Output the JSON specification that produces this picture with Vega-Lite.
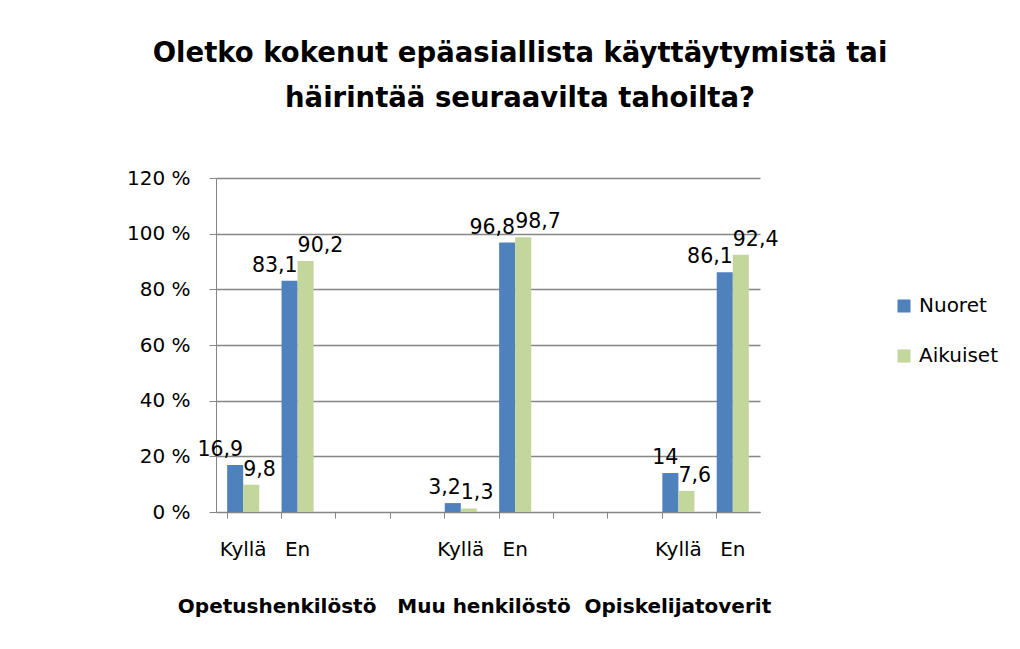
{
  "$schema": "https://vega.github.io/schema/vega-lite/v6.json",
  "autosize": "none",
  "width": 544,
  "height": 334,
  "padding": {"left": 216, "top": 178, "right": 260, "bottom": 137},
  "background": "white",
  "config": {
    "font": "DejaVu Sans",
    "view": {"stroke": null},
    "locale": {"number": {"decimal": ",", "thousands": "\u00a0", "grouping": [3], "currency": ["", " €"]}}
  },
  "title": {
    "text": ["Oletko kokenut epäasiallista käyttäytymistä tai", "häirintää seuraavilta tahoilta?"],
    "fontSize": 27.5,
    "fontWeight": "bold",
    "font": "DejaVu Sans",
    "color": "black",
    "anchor": "middle",
    "dx": 32,
    "lineHeight": 45,
    "offset": 56
  },
  "data": {
    "values": [
      {"slot": "Opetushenkilöstö Kyllä", "series": "Nuoret", "value": 16.9},
      {"slot": "Opetushenkilöstö Kyllä", "series": "Aikuiset", "value": 9.8},
      {"slot": "Opetushenkilöstö En", "series": "Nuoret", "value": 83.1},
      {"slot": "Opetushenkilöstö En", "series": "Aikuiset", "value": 90.2},
      {"slot": "Muu henkilöstö Kyllä", "series": "Nuoret", "value": 3.2},
      {"slot": "Muu henkilöstö Kyllä", "series": "Aikuiset", "value": 1.3},
      {"slot": "Muu henkilöstö En", "series": "Nuoret", "value": 96.8},
      {"slot": "Muu henkilöstö En", "series": "Aikuiset", "value": 98.7},
      {"slot": "Opiskelijatoverit Kyllä", "series": "Nuoret", "value": 14},
      {"slot": "Opiskelijatoverit Kyllä", "series": "Aikuiset", "value": 7.6},
      {"slot": "Opiskelijatoverit En", "series": "Nuoret", "value": 86.1},
      {"slot": "Opiskelijatoverit En", "series": "Aikuiset", "value": 92.4}
    ]
  },
  "encoding": {
    "x": {
      "field": "slot",
      "type": "nominal",
      "sort": null,
      "scale": {
        "domain": ["Opetushenkilöstö Kyllä", "Opetushenkilöstö En", "gap1", "gap2", "Muu henkilöstö Kyllä", "Muu henkilöstö En", "gap3", "gap4", "Opiskelijatoverit Kyllä", "Opiskelijatoverit En"],
        "paddingInner": 0.41,
        "paddingOuter": 0.205
      },
      "axis": {
        "labelExpr": "slice(datum.value, 0, 3) == 'gap' ? '' : (indexof(datum.value, 'Kyllä') >= 0 ? 'Kyllä' : 'En')",
        "labelAngle": 0,
        "labelFontSize": 20,
        "labelColor": "black",
        "labelPadding": 21,
        "bandPosition": 0,
        "tickSize": 6,
        "tickColor": "#868686",
        "domainColor": "#868686",
        "grid": false,
        "title": "Opetushenkilöstö\u00a0\u00a0\u00a0Muu henkilöstö\u00a0\u00a0Opiskelijatoverit",
        "titleFontSize": 20,
        "titleFontWeight": "bold",
        "titleColor": "black",
        "titleAnchor": "start",
        "titleAlign": "center",
        "titleX": 258,
        "titleY": 100,
        "titleBaseline": "alphabetic"
      }
    },
    "xOffset": {"field": "series", "type": "nominal", "sort": ["Nuoret", "Aikuiset"]},
    "y": {
      "field": "value",
      "type": "quantitative",
      "scale": {"domain": [0, 120]},
      "axis": {
        "values": [0, 20, 40, 60, 80, 100, 120],
        "labelExpr": "datum.value + ' %'",
        "labelFontSize": 20,
        "labelColor": "black",
        "labelPadding": 19,
        "tickSize": 7,
        "tickColor": "#868686",
        "domainColor": "#868686",
        "gridColor": "#868686",
        "gridWidth": 1.3,
        "title": null
      }
    }
  },
  "layer": [
    {
      "mark": {"type": "bar"},
      "encoding": {
        "color": {
          "field": "series",
          "type": "nominal",
          "sort": ["Nuoret", "Aikuiset"],
          "scale": {"domain": ["Nuoret", "Aikuiset"], "range": ["#4F81BD", "#C3D69B"]},
          "legend": {
            "title": null,
            "orient": "none",
            "legendX": 678,
            "legendY": 118,
            "symbolType": "square",
            "symbolSize": 170,
            "symbolStrokeWidth": 0,
            "labelFontSize": 20,
            "labelColor": "black",
            "labelOffset": 5,
            "rowPadding": 30
          }
        }
      }
    },
    {
      "transform": [{"filter": "datum.series == 'Nuoret'"}],
      "mark": {"type": "text", "align": "right", "baseline": "alphabetic", "dx": 8, "dy": -9, "fontSize": 20.5, "color": "black"},
      "encoding": {"text": {"field": "value", "type": "quantitative", "format": "~r"}}
    },
    {
      "transform": [{"filter": "datum.series == 'Aikuiset'"}],
      "mark": {"type": "text", "align": "left", "baseline": "alphabetic", "dx": -8, "dy": -9, "fontSize": 20.5, "color": "black"},
      "encoding": {"text": {"field": "value", "type": "quantitative", "format": "~r"}}
    }
  ]
}
